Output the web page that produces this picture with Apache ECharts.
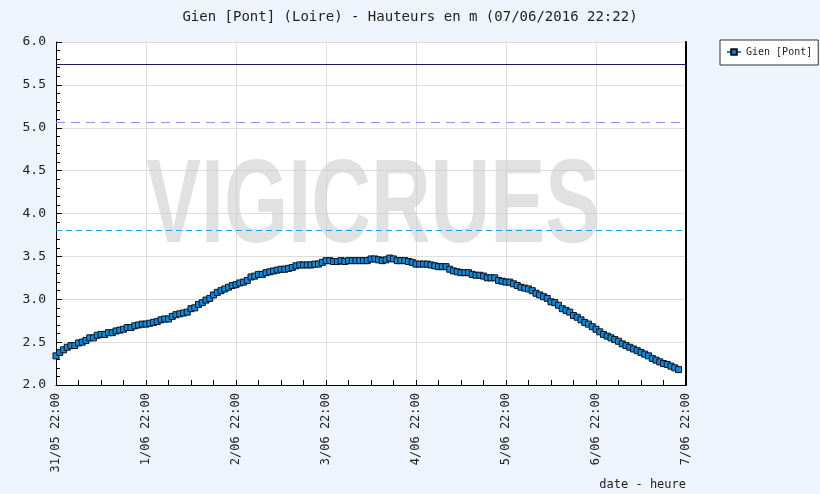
<!DOCTYPE html>
<html>
<head>
<meta charset="utf-8">
<title>Gien [Pont]</title>
<script src="https://cdn.jsdelivr.net/npm/echarts@6/dist/echarts.min.js"></script>
<style>
  html, body { margin: 0; padding: 0; background: #eff3fb; }
  #chart { width: 820px; height: 494px; }
</style>
</head>
<body>
<div id="chart"></div>
<script>
// tick labels (one per day, 24 h apart)
const tickLabels = ['31/05 22:00', '1/06 22:00', '2/06 22:00', '3/06 22:00',
  '4/06 22:00', '5/06 22:00', '6/06 22:00', '7/06 22:00'];

// hourly water level (m) from 31/05 22:00
const levels = [
  2.34, 2.38, 2.41, 2.44, 2.46, 2.46, 2.49, 2.50, 2.52, 2.55, 2.55, 2.58,
  2.59, 2.59, 2.61, 2.61, 2.63, 2.64, 2.65, 2.67, 2.67, 2.69, 2.70, 2.71,
  2.71, 2.72, 2.73, 2.74, 2.76, 2.77, 2.77, 2.80, 2.82, 2.83, 2.84, 2.85,
  2.89, 2.90, 2.94, 2.96, 2.99, 3.01, 3.05, 3.08, 3.10, 3.12, 3.14, 3.16,
  3.17, 3.19, 3.20, 3.22, 3.26, 3.27, 3.29, 3.29, 3.31, 3.32, 3.33, 3.34,
  3.35, 3.35, 3.36, 3.37, 3.39, 3.40, 3.40, 3.40, 3.40, 3.41, 3.41, 3.43,
  3.45, 3.45, 3.44, 3.44, 3.45, 3.44, 3.45, 3.45, 3.45, 3.45, 3.45, 3.45,
  3.47, 3.47, 3.46, 3.45, 3.46, 3.48, 3.47, 3.45, 3.45, 3.45, 3.44, 3.43,
  3.41, 3.41, 3.41, 3.41, 3.40, 3.39, 3.38, 3.38, 3.38, 3.35, 3.33, 3.32,
  3.31, 3.31, 3.31, 3.29, 3.28, 3.28, 3.27, 3.25, 3.25, 3.25, 3.22, 3.21,
  3.20, 3.20, 3.18, 3.16, 3.14, 3.13, 3.12, 3.10, 3.07, 3.05, 3.03, 3.01,
  2.97, 2.96, 2.93, 2.89, 2.87, 2.85, 2.81, 2.79, 2.76, 2.73, 2.71, 2.68,
  2.65, 2.62, 2.59, 2.57, 2.55, 2.53, 2.51, 2.48, 2.46, 2.44, 2.42, 2.40,
  2.38, 2.36, 2.34, 2.31, 2.29, 2.27, 2.25, 2.24, 2.22, 2.20, 2.18
];

// alert levels drawn as horizontal lines
const thresholds = [5.74, 5.06, 3.80];

const font = 'DejaVu Sans Mono';
let myChart = echarts.init(document.getElementById('chart'));

myChart.setOption({
  backgroundColor: '#eff3fb',
  animation: false,
  textStyle: { fontFamily: font },
  title: {
    text: 'Gien [Pont] (Loire) - Hauteurs en m (07/06/2016 22:22)',
    left: 'center',
    top: 5,
    textStyle: { fontFamily: font, fontSize: 14, fontWeight: 'normal', color: '#222' }
  },
  legend: {
    left: 720,
    top: 40,
    width: 85,
    padding: [7, 6, 8, 6],
    backgroundColor: '#fff',
    borderColor: '#333',
    borderWidth: 1,
    itemWidth: 14,
    itemHeight: 7,
    itemGap: 4,
    textStyle: { fontFamily: font, fontSize: 10, color: '#222' }
  },
  grid: {
    left: 56,
    right: 134,
    top: 42,
    bottom: 109,
    show: true,
    backgroundColor: '#fff',
    borderWidth: 0
  },
  graphic: [
    {
      type: 'text',
      left: 146,
      top: 150,
      z: 1,
      silent: true,
      scaleX: 0.7,
      style: {
        text: 'VIGICRUES',
        font: 'bold 118px "Liberation Sans"',
        fill: 'rgba(205,205,205,0.6)'
      }
    },
    {
      type: 'text',
      right: 134,
      top: 479,
      style: {
        text: 'date - heure',
        font: '12px "DejaVu Sans Mono"',
        fill: '#222'
      }
    }
  ],
  xAxis: {
    type: 'value',
    min: 0,
    max: 168,
    interval: 24,
    axisLine: { onZero: false, lineStyle: { color: '#000', width: 1 } },
    axisTick: { inside: true, length: 5, lineStyle: { color: '#000' } },
    minorTick: { show: true, splitNumber: 4, length: 5, lineStyle: { color: '#000' } },
    splitLine: { show: true, lineStyle: { color: '#dddddd' } },
    axisLabel: {
      rotate: 90,
      margin: 8,
      fontSize: 12,
      color: '#222',
      showMinLabel: true,
      showMaxLabel: true,
      formatter: function(v) {
        return tickLabels[Math.round(v / 24)];
      }
    }
  },
  yAxis: [
    {
      type: 'value',
      min: 2,
      max: 6,
      interval: 0.5,
      axisLine: { show: true, lineStyle: { color: '#000' } },
      axisTick: { show: true, inside: true, length: 6, lineStyle: { color: '#000' } },
      minorTick: { show: true, splitNumber: 5, length: 4, lineStyle: { color: '#000' } },
      splitLine: { show: true, lineStyle: { color: '#dddddd' } },
      axisLabel: {
        margin: 10,
        fontSize: 13,
        color: '#222',
        formatter: function(v) {
          return v.toFixed(1);
        }
      }
    },
    {
      type: 'value',
      position: 'right',
      min: 2,
      max: 6,
      axisLine: { show: true, lineStyle: { color: '#000', width: 2 } },
      axisTick: { show: false },
      axisLabel: { show: false },
      splitLine: { show: false }
    }
  ],
  series: [
    {
      name: 'Gien [Pont]',
      type: 'line',
      data: levels.map(function(v, i) {
        return [i, v];
      }),
      symbol: 'rect',
      symbolSize: 6,
      showAllSymbol: true,
      z: 5,
      lineStyle: { color: '#0a8ae0', width: 1 },
      itemStyle: { color: '#0a8ae0', borderColor: '#111', borderWidth: 1 },
      markLine: {
        silent: true,
        symbol: ['none', 'none'],
        label: { show: false },
        data: [
          { yAxis: thresholds[0], lineStyle: { color: '#1a1a5e', type: 'solid', width: 1 } },
          { yAxis: thresholds[1], lineStyle: { color: '#8f8ff5', type: [9, 6], width: 1 } },
          { yAxis: thresholds[2], lineStyle: { color: '#1aa3e8', type: [6, 4], width: 1 } }
        ]
      }
    }
  ]
});
</script>
</body>
</html>
